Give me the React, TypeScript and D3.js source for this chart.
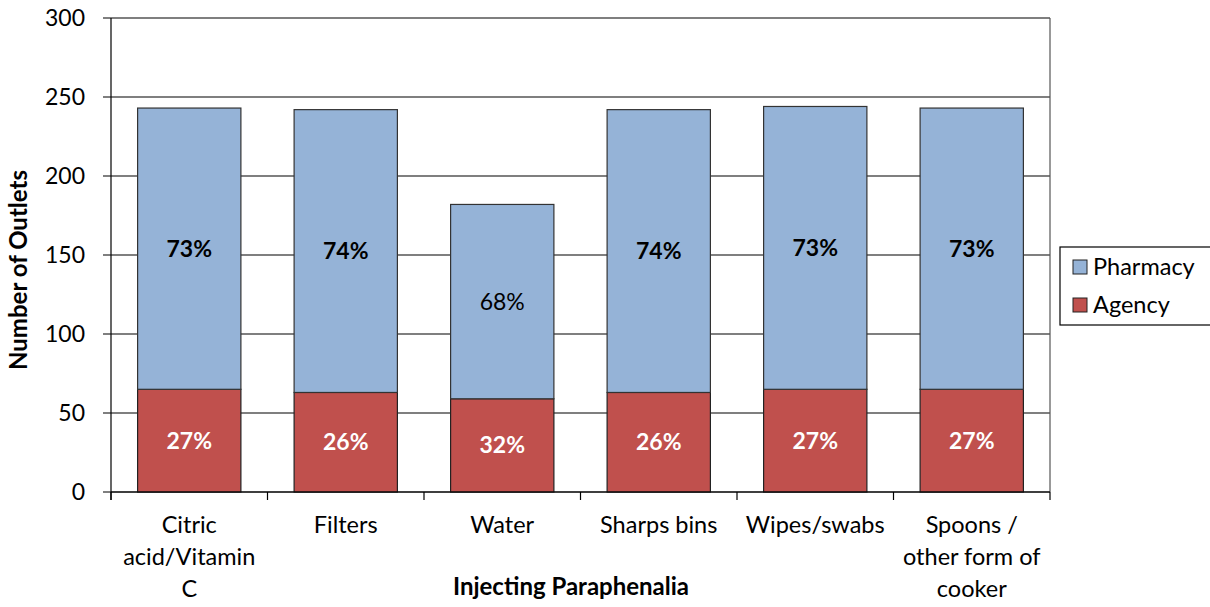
import React from "react";
import * as d3 from "d3";

const categories: string[][] = [
  ["Citric", "acid/Vitamin", "C"],
  ["Filters"],
  ["Water"],
  ["Sharps bins"],
  ["Wipes/swabs"],
  ["Spoons /", "other form of", "cooker"],
];
const agency = [65, 63, 59, 63, 65, 65];
const pharmacy = [178, 179, 123, 179, 179, 178];
const pharmacyLabelBold = [true, true, false, true, true, true];
const yTicks = [0, 50, 100, 150, 200, 250, 300];
const seriesNames = ["Pharmacy", "Agency"];
const colors = { Pharmacy: "#95B3D7", Agency: "#C0504D" } as Record<string, string>;

const W = 1210, H = 607;
const left = 111, right = 1050, top = 18, bottom = 492;
const FONT = "Lato, 'Open Sans', sans-serif";

export default function App() {
  const x = d3.scaleBand<number>().domain(d3.range(categories.length)).range([left, right]).paddingInner(0.34).paddingOuter(0.17);
  const xo = d3.scaleBand<number>().domain(d3.range(categories.length)).range([left, right]);
  const y = d3.scaleLinear().domain([0, 300]).range([bottom, top]);
  const pct = (a: number, b: number) => `${Math.round((a / (a + b)) * 100)}%`;

  return (
    <svg width={W} height={H} style={{ position: "absolute", left: 0, top: 0, background: "#fff" }} fontFamily={FONT}>
      {yTicks.map((t) => (
        <line key={"g" + t} x1={left - 8} x2={right} y1={y(t)} y2={y(t)} stroke="#000" strokeWidth={1.2} />
      ))}
      <line x1={right} x2={right} y1={top} y2={bottom} stroke="#555" strokeWidth={1.2} />
      {categories.map((c, i) => {
        const x0 = x(i)!;
        const bw = x.bandwidth();
        const a = agency[i], p = pharmacy[i];
        return (
          <g key={"b" + i}>
            <rect x={x0} y={y(a)} width={bw} height={y(0) - y(a)} fill={colors.Agency} stroke="#222" strokeWidth={1.2} />
            <rect x={x0} y={y(a + p)} width={bw} height={y(a) - y(a + p)} fill={colors.Pharmacy} stroke="#333" strokeWidth={1.2} />
            <text x={x0 + bw / 2} y={(y(a) + y(a + p)) / 2} dy="0.35em" textAnchor="middle" fontSize={23}
              fontWeight={pharmacyLabelBold[i] ? 700 : 400} fill="#000">{pct(p, a)}</text>
            <text x={x0 + bw / 2} y={(y(0) + y(a)) / 2} dy="0.35em" textAnchor="middle" fontSize={23}
              fontWeight={700} fill="#fff">{pct(a, p)}</text>
          </g>
        );
      })}
      <line x1={left} x2={left} y1={top} y2={bottom + 8} stroke="#000" strokeWidth={1.2} />
      <line x1={left} x2={right} y1={bottom} y2={bottom} stroke="#000" strokeWidth={1.2} />
      {d3.range(categories.length + 1).map((i) => {
        const xx = i < categories.length ? xo(i)! : right;
        return <line key={"xt" + i} x1={xx} x2={xx} y1={bottom} y2={bottom + 8} stroke="#000" strokeWidth={1.2} />;
      })}
      {yTicks.map((t) => (
        <text key={"yl" + t} x={left - 26} y={y(t)} dy="0.35em" textAnchor="end" fontSize={23} fill="#000">{t}</text>
      ))}
      {categories.map((c, i) => (
        <text key={"xl" + i} x={xo(i)! + xo.bandwidth() / 2} y={533} textAnchor="middle" fontSize={23.5} fill="#000">
          {c.map((line, j) => (
            <tspan key={j} x={xo(i)! + xo.bandwidth() / 2} dy={j === 0 ? 0 : 32}>{line}</tspan>
          ))}
        </text>
      ))}
      <text x={571} y={595} textAnchor="middle" fontSize={24} fontWeight={700}>Injecting Paraphenalia</text>
      <text transform={`translate(27,${270}) rotate(-90)`} textAnchor="middle" fontSize={24} fontWeight={700}>Number of Outlets</text>
      <rect x={1060} y={247} width={152} height={78} fill="#fff" stroke="#000" strokeWidth={1.2} />
      {seriesNames.map((s, i) => (
        <g key={"lg" + i} transform={`translate(1073,${267 + i * 38})`}>
          <rect x={0} y={-7} width={14} height={14} fill={colors[s]} stroke="#222" strokeWidth={1} />
          <text x={20} y={0} dy="0.35em" fontSize={23.5}>{s}</text>
        </g>
      ))}
    </svg>
  );
}
